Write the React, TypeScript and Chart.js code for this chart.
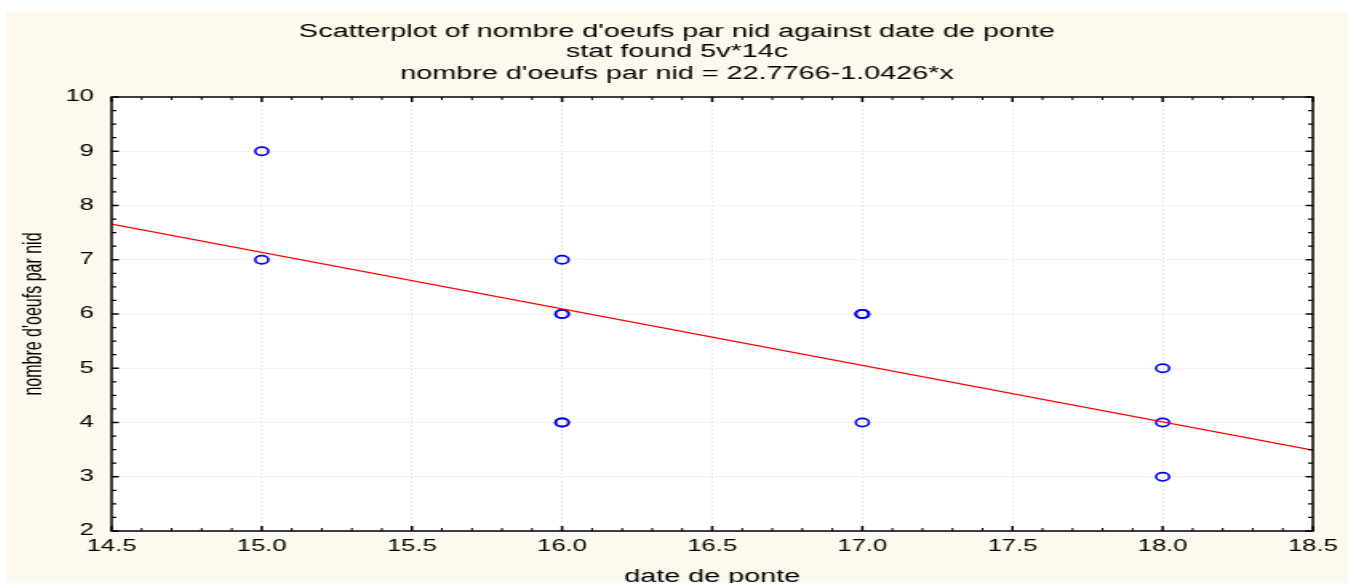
import { useEffect, useRef } from 'react';
import { Chart, registerables } from 'chart.js';

Chart.register(...registerables);

const TITLE_LINES = ["Scatterplot of nombre d'oeufs par nid against date de ponte", 'stat found 5v*14c'];
const SUBTITLE = "nombre d'oeufs par nid = 22.7766-1.0426*x";
const X_TITLE = 'date de ponte';
const Y_TITLE = "nombre d'oeufs par nid";

// 14 cases (some overlap on the plot)
const datePonte = [15, 15, 16, 16, 16, 16, 16, 17, 17, 17, 17, 18, 18, 18];
const nombreOeufs = [9, 7, 7, 6, 6, 4, 4, 6, 6, 6, 4, 5, 4, 3];

// regression line endpoints read at the axis edges
const fitX = [14.5, 18.5];
const fitY = [7.659, 3.489];

const X_MIN = 14.5;
const X_MAX = 18.5;
const X_STEP = 0.5;
const Y_MIN = 2;
const Y_MAX = 10;
const Y_STEP = 1;

const FONT = "'Liberation Sans', Arial, sans-serif";
const STRETCH = 1.6;
const CANVAS_W = 839;
const CANVAS_H = 572;

const framePlugin = {
  id: 'frame',
  afterDatasetsDraw(chart: any) {
    const { ctx, chartArea: a, scales } = chart;
    const xs = scales.x;
    const ys = scales.y;
    ctx.save();
    ctx.strokeStyle = '#000';
    const xMinor = 0.1;
    for (let i = 0; ; i++) {
      const v = X_MIN + i * xMinor;
      if (v > X_MAX + 1e-9) break;
      const major = Math.abs(v / X_STEP - Math.round(v / X_STEP)) < 1e-6;
      const len = major ? 5 : 3;
      ctx.lineWidth = major ? 1.5 : 1;
      const px = xs.getPixelForValue(v);
      ctx.beginPath();
      ctx.moveTo(px, a.bottom);
      ctx.lineTo(px, a.bottom - len);
      ctx.moveTo(px, a.top);
      ctx.lineTo(px, a.top + len);
      ctx.stroke();
    }
    const yMinor = 0.25;
    for (let i = 0; ; i++) {
      const v = Y_MIN + i * yMinor;
      if (v > Y_MAX + 1e-9) break;
      const major = Math.abs(v - Math.round(v)) < 1e-6;
      const len = major ? 4.5 : 3;
      ctx.lineWidth = major ? 1.5 : 1.2;
      const py = ys.getPixelForValue(v);
      ctx.beginPath();
      ctx.moveTo(a.left, py);
      ctx.lineTo(a.left + len, py);
      ctx.moveTo(a.right, py);
      ctx.lineTo(a.right - len, py);
      ctx.stroke();
    }
    ctx.lineWidth = 1.5;
    ctx.strokeRect(a.left, a.top, a.right - a.left, a.bottom - a.top);
    ctx.restore();
  },
  beforeDraw(chart: any) {
    const { ctx, chartArea: a } = chart;
    ctx.save();
    ctx.fillStyle = '#fdf9ef';
    ctx.fillRect(0, 0, chart.width, chart.height);
    ctx.fillStyle = '#ffffff';
    ctx.fillRect(a.left, a.top, a.right - a.left, a.bottom - a.top);
    ctx.restore();
  },
};

export default function App() {
  const ref = useRef<HTMLCanvasElement | null>(null);

  useEffect(() => {
    if (!ref.current) return;
    const points = datePonte.map((x, i) => ({ x, y: nombreOeufs[i] }));
    const line = fitX.map((x, i) => ({ x, y: fitY[i] }));
    const chart = new Chart(ref.current, {
      type: 'scatter',
      data: {
        datasets: [
          {
            type: 'line',
            data: line,
            borderColor: '#ff0000',
            borderWidth: 1.2,
            pointRadius: 0,
            fill: false,
            order: 0,
          } as any,
          {
            type: 'scatter',
            data: points,
            pointStyle: 'circle',
            pointRadius: 4.1,
            pointBorderWidth: 1.6,
            pointBorderColor: '#0000ff',
            pointBackgroundColor: 'rgba(0,0,0,0)',
            borderColor: '#0000ff',
            backgroundColor: 'rgba(0,0,0,0)',
            order: 1,
          } as any,
        ],
      },
      options: {
        responsive: false,
        animation: false,
        devicePixelRatio: 1,
        layout: { padding: { left: 0, right: 0, top: 0, bottom: 0 } },
        plugins: {
          legend: { display: false },
          tooltip: { enabled: false },
          title: {
            display: true,
            text: TITLE_LINES,
            color: '#000',
            font: { family: FONT, size: 18, weight: 'normal', lineHeight: 20 / 18 },
            padding: { top: 11, bottom: 2 },
          },
          subtitle: {
            display: true,
            text: SUBTITLE,
            color: '#000',
            font: { family: FONT, size: 18, weight: 'normal', lineHeight: 20 / 18 },
            padding: { top: 0, bottom: 13 },
          },
        },
        scales: {
          x: {
            type: 'linear',
            position: 'bottom',
            min: X_MIN,
            max: X_MAX,
            ticks: {
              stepSize: X_STEP,
              color: '#000',
              font: { family: FONT, size: 16 },
              padding: 6,
              callback: (v: any) => Number(v).toFixed(1),
            },
            grid: {
              drawTicks: false,
              color: '#e0e0e0',
              lineWidth: 1,
            },
            border: { display: false, dash: [1.5, 2.5] },
            title: {
              display: true,
              text: X_TITLE,
              color: '#000',
              font: { family: FONT, size: 18 },
              padding: { top: 0, bottom: -5 },
            },
            afterFit: (s: any) => {
              s.height = 52;
            },
          } as any,
          y: {
            type: 'linear',
            position: 'left',
            min: Y_MIN,
            max: Y_MAX,
            ticks: {
              stepSize: Y_STEP,
              color: '#000',
              font: { family: FONT, size: 16 },
              padding: 11,
            },
            grid: {
              drawTicks: false,
              color: '#e0e0e0',
              lineWidth: 1,
            },
            border: { display: false, dash: [1, 1.5] },
            title: {
              display: true,
              text: Y_TITLE,
              color: '#000',
              font: { family: FONT, size: 16 },
              padding: { top: 8, bottom: 0 },
            },
            afterFit: (s: any) => {
              s.width = 66;
            },
          } as any,
          yr: {
            axis: 'y',
            type: 'linear',
            position: 'right',
            display: true,
            ticks: { display: false },
            grid: { display: false },
            border: { display: false },
            afterFit: (s: any) => {
              s.width = 22;
            },
          } as any,
        },
      },
      plugins: [framePlugin],
    });
    return () => chart.destroy();
  }, []);

  return (
    <div
      style={{
        position: 'absolute',
        left: 6,
        top: 11,
        width: Math.round(CANVAS_W * STRETCH),
        height: CANVAS_H,
        background: '#fdf9ef',
        overflow: 'hidden',
      }}
    >
      <canvas
        ref={ref}
        width={CANVAS_W}
        height={CANVAS_H}
        style={{ width: Math.round(CANVAS_W * STRETCH) + 'px', height: CANVAS_H + 'px', display: 'block' }}
      />
    </div>
  );
}
